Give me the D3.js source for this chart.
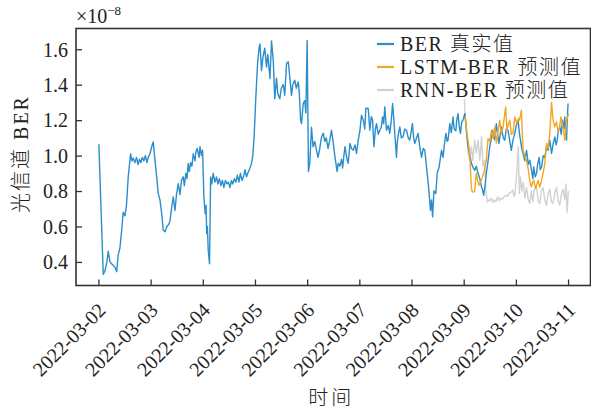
<!DOCTYPE html>
<html>
<head>
<meta charset="utf-8">
<script src="https://cdn.jsdelivr.net/npm/d3@7"></script>
<style>
  html, body { margin: 0; padding: 0; background: #fff; }
  svg { display: block; }
  text { font-family: "Liberation Serif", "Noto Sans CJK SC", serif; fill: #222; }
  .light { font-weight: 300; }
</style>
</head>
<body>
<svg id="chart" width="591" height="410"></svg>
<script>
// Hours after 2022-03-02 00:00, and BER values in units of 1e-8.
const berHours = [
  0.2, 2.2, 3.0, 3.9, 4.5, 5.3, 6.8, 7.6, 8.4, 9.1, 9.9, 10.7, 11.4, 12.2, 12.9, 13.7, 14.8, 15.4, 16.0, 16.8,
  17.5, 18.2, 18.9, 19.5, 20.2, 20.9, 21.6, 22.3, 22.9, 23.7, 24.5, 25.2, 26.0, 26.8, 27.5, 28.3, 29.1, 29.8, 30.6, 31.5,
  32.2, 32.9, 33.6, 34.4, 35.2, 35.9, 36.7, 37.5, 38.2, 39.0, 39.5, 40.2, 40.7, 41.3, 41.8, 42.4, 43.0, 43.6, 44.4, 44.8,
  45.4, 46.3, 46.7, 47.4, 47.9, 48.5, 49.1, 49.5, 49.8, 50.1, 50.5, 51.1, 51.6, 52.1, 52.8, 53.6, 54.3, 54.9, 55.6, 56.3,
  57.0, 57.7, 58.4, 59.1, 59.8, 60.5, 61.2, 61.8, 62.5, 63.2, 63.9, 64.6, 65.3, 66.0, 66.7, 67.4, 68.1, 68.7, 69.4, 70.4,
  71.0, 71.6, 72.4, 73.2, 73.9, 74.3, 75.0, 75.6, 76.5, 77.3, 77.9, 78.9, 79.6, 80.4, 81.1, 81.9, 82.5, 83.4, 84.1, 85.0,
  85.7, 86.5, 87.3, 88.0, 88.8, 89.4, 90.3, 91.0, 91.9, 92.3, 93.0, 93.4, 94.2, 94.9, 95.4, 96.0, 96.6, 97.2, 98.0, 98.7,
  99.5, 100.3, 101.0, 101.8, 102.6, 103.4, 104.1, 104.8, 105.6, 106.4, 107.2, 107.9, 108.7, 109.8, 110.3, 111.0, 111.8, 112.3, 112.9, 113.4,
  114.4, 114.9, 115.7, 116.4, 117.2, 118.0, 118.7, 119.5, 120.3, 121.0, 121.8, 122.5, 123.0, 124.1, 124.8, 125.5, 126.1, 126.7, 127.4, 127.9,
  128.7, 129.4, 130.1, 130.7, 131.2, 131.7, 132.5, 133.3, 134.0, 134.7, 135.3, 135.9, 136.3, 137.1, 137.4, 137.8, 138.6, 139.3, 140.1, 140.9,
  141.7, 142.5, 143.2, 143.9, 144.4, 145.0, 145.5, 146.3, 147.0, 147.8, 148.6, 149.4, 150.1, 151.2, 151.7, 152.1, 152.7, 153.2, 153.7, 154.3,
  155.2, 155.8, 156.7, 157.2, 157.8, 158.5, 159.1, 159.8, 160.4, 160.8, 161.6, 162.3, 163.1, 163.6, 164.4, 164.8, 165.4, 166.0, 166.5, 167.1,
  167.7, 168.5, 169.0, 169.4, 170.0, 170.8, 171.6, 172.4, 173.1, 173.8, 174.6, 175.4, 176.2, 176.8, 177.2, 177.9, 178.4, 179.2, 180.0, 180.6,
  181.2, 181.8, 182.2, 183.0, 183.6, 184.2, 184.8, 185.3, 186.2, 186.9, 187.6, 188.4, 189.2, 189.9, 190.7, 191.5, 192.2, 193.0, 193.6, 194.1,
  194.7, 195.3, 196.1, 196.9, 197.7, 198.4, 199.2, 199.8, 200.2, 200.9, 201.5, 202.0, 202.7, 203.2, 203.8, 204.6, 205.3, 206.1, 206.8, 207.6,
  208.4, 209.2, 209.9, 210.5, 211.0, 211.5, 212.2, 212.9, 213.4, 214.0, 214.5, 214.9, 215.3, 215.6, 216.0
];
const berActual = [
  1.064, 0.33, 0.35, 0.40, 0.46, 0.40, 0.38, 0.37, 0.345, 0.44, 0.48, 0.58, 0.68, 0.66, 0.72, 0.88, 1.01, 0.97, 0.985, 0.96,
  0.99, 0.95, 0.98, 0.96, 0.99, 0.97, 1.0, 0.96, 0.99, 1.01, 1.05, 1.077, 0.974, 0.88, 0.786, 0.75, 0.673, 0.58, 0.57, 0.60,
  0.61, 0.63, 0.70, 0.767, 0.69, 0.78, 0.842, 0.78, 0.86, 0.88, 0.83, 0.90, 0.87, 0.955, 0.91, 0.96, 0.94, 1.01, 0.97, 1.02,
  1.04, 0.99, 1.05, 1.0, 1.03, 0.767, 0.673, 0.72, 0.56, 0.60, 0.466, 0.39, 0.88, 0.84, 0.90, 0.85, 0.88, 0.84, 0.87, 0.83,
  0.86, 0.82, 0.86, 0.84, 0.85, 0.82, 0.86, 0.84, 0.87, 0.85, 0.89, 0.85, 0.90, 0.86, 0.88, 0.92, 0.88, 0.90, 0.92, 0.956,
  1.0, 1.105, 1.33, 1.52, 1.61, 1.63, 1.48, 1.55, 1.606, 1.50, 1.57, 1.435, 1.647, 1.54, 1.32, 1.437, 1.35, 1.32, 1.38, 1.40,
  1.34, 1.52, 1.53, 1.445, 1.34, 1.40, 1.425, 1.38, 1.416, 1.37, 1.20, 1.18, 1.295, 1.31, 1.24, 1.65, 0.91, 0.957, 1.16, 1.05,
  1.08, 1.03, 0.99, 1.04, 1.105, 1.126, 1.08, 1.10, 1.04, 1.087, 1.143, 1.08, 1.00, 0.91, 0.957, 0.94, 0.98, 0.93, 1.0, 1.05,
  0.974, 0.957, 1.068, 1.04, 1.03, 1.06, 1.013, 1.087, 1.143, 1.228, 1.20, 1.15, 1.267, 1.266, 1.143, 1.22, 1.2, 1.05, 1.15, 1.18,
  1.12, 1.143, 1.16, 1.218, 1.18, 1.275, 1.143, 1.17, 1.126, 1.2, 1.294, 1.2, 1.125, 0.99, 1.068, 1.11, 1.162, 1.10, 1.105, 1.15,
  1.143, 1.10, 1.087, 1.14, 1.18, 1.10, 1.068, 1.10, 1.125, 1.05, 0.99, 1.04, 1.03, 0.90, 0.84, 0.786, 0.69, 0.75, 0.654, 0.80,
  0.786, 0.90, 0.936, 0.98, 1.03, 0.99, 1.06, 1.125, 1.08, 1.087, 1.18, 1.13, 1.218, 1.15, 1.14, 1.20, 1.237, 1.16, 1.125, 1.19,
  1.2, 1.237, 1.18, 1.12, 1.05, 1.00, 0.955, 0.93, 0.917, 0.94, 0.90, 0.87, 0.823, 0.80, 0.776, 0.84, 0.90, 0.97, 1.05, 1.09,
  1.143, 1.10, 1.09, 1.18, 1.12, 1.068, 1.12, 1.162, 1.10, 1.087, 1.15, 1.143, 1.08, 1.03, 1.09, 1.125, 1.17, 1.2, 1.13, 1.087,
  1.04, 1.012, 0.97, 1.03, 0.95, 0.974, 0.917, 0.87, 0.936, 0.88, 0.9, 0.95, 0.99, 0.92, 0.936, 1.0, 0.99, 1.05, 1.03, 1.087,
  1.012, 1.07, 1.105, 1.06, 1.087, 1.14, 1.162, 1.12, 1.2, 1.15, 1.218, 1.13, 1.087, 1.20, 1.294
];

const lstmHours = [
  168.7, 169.5, 170.4, 171.0, 171.5, 171.9, 173.0, 173.8, 174.4, 175.0, 176.1, 177.2, 178.4, 179.2, 180.0, 180.8, 181.5, 182.3, 183.0, 183.8,
  184.6, 185.3, 186.1, 186.7, 187.3, 187.9, 188.6, 189.2, 189.9, 190.7, 191.5, 192.5, 193.2, 193.7, 194.5, 195.3, 196.1, 196.8, 197.6, 198.4,
  199.1, 199.7, 200.2, 201.1, 201.7, 202.2, 203.0, 203.8, 204.5, 205.3, 206.1, 206.8, 207.6, 208.4, 209.1, 209.9, 210.7, 211.3, 211.9, 212.7,
  213.7, 214.5, 215.3, 216.3
];
const lstmPredicted = [
  1.22, 1.126, 1.05, 0.955, 0.823, 0.795, 0.795, 0.90, 0.86, 0.833, 0.86, 0.90, 0.974, 1.096, 1.08, 1.143, 1.10, 1.162, 1.07, 1.14,
  1.20, 1.12, 1.162, 1.22, 1.275, 1.143, 1.18, 1.20, 1.12, 1.125, 1.218, 1.18, 1.21, 1.20, 1.256, 1.03, 1.0, 0.974, 0.93, 0.86,
  0.823, 0.85, 0.86, 0.814, 0.84, 0.86, 0.823, 0.86, 0.90, 0.955, 1.068, 1.04, 1.125, 1.30, 1.20, 1.162, 1.19, 1.14, 1.143, 1.218,
  1.162, 1.087, 1.20, 1.237
];

const rnnHours = [
  168.3, 169.1, 169.7, 170.2, 170.7, 171.5, 172.2, 173.0, 173.8, 174.6, 175.4, 176.2, 176.9, 177.7, 178.2, 178.9, 179.5, 180.0, 180.7, 181.4,
  182.1, 182.8, 183.7, 184.4, 185.1, 186.0, 186.7, 187.7, 188.3, 189.0, 190.0, 190.6, 191.1, 191.5, 192.3, 193.1, 193.6, 194.1, 194.7, 195.4,
  196.1, 196.9, 197.7, 198.4, 199.1, 199.8, 200.5, 201.5, 202.3, 203.0, 203.7, 204.5, 205.3, 206.1, 206.9, 207.6, 208.3, 209.1, 209.9, 210.7,
  211.5, 212.2, 212.9, 213.7, 214.5, 215.0, 215.6, 216.1
];
const rnnPredicted = [
  1.32, 1.143, 1.07, 1.0, 0.974, 1.05, 0.974, 1.087, 1.013, 1.087, 0.974, 1.105, 0.94, 0.974, 0.80, 0.739, 0.75, 0.745, 0.76, 0.735,
  0.75, 0.74, 0.767, 0.745, 0.76, 0.755, 0.77, 0.776, 0.77, 0.79, 0.795, 0.805, 0.77, 0.776, 0.88, 1.05, 0.786, 0.88, 0.80, 0.85,
  0.76, 0.82, 0.75, 0.73, 0.80, 0.74, 0.81, 0.82, 0.74, 0.73, 0.80, 0.82, 0.75, 0.72, 0.79, 0.81, 0.74, 0.73, 0.79, 0.82,
  0.74, 0.72, 0.78, 0.81, 0.75, 0.84, 0.68, 0.80
];

const dayTicks = ["2022-03-02", "2022-03-03", "2022-03-04", "2022-03-05", "2022-03-06",
                  "2022-03-07", "2022-03-08", "2022-03-09", "2022-03-10", "2022-03-11"];
const berTicks = [0.4, 0.6, 0.8, 1.0, 1.2, 1.4, 1.6];

const legendLabels = ["BER 真实值", "LSTM-BER 预测值", "RNN-BER 预测值"];
const seriesColors = ["#2a8ecb", "#f5a623", "#d2d2d2"];

// ---------------------------------------------------------------------------
const svg = d3.select("#chart");
const plot = { left: 76, right: 590.5, top: 28.5, bottom: 285.5 };

const parseDay = d3.utcParse("%Y-%m-%d");
const t0 = parseDay(dayTicks[0]);
const hourToDate = h => new Date(t0.getTime() + h * 3600e3);
const padHours = 0.43 * 24;

const x = d3.scaleUtc()
  .domain([hourToDate(-padHours), hourToDate(9 * 24 + padHours)])
  .range([plot.left, plot.right]);
const y = d3.scaleLinear()
  .domain([0.267, 1.717])
  .range([plot.bottom, plot.top]);

const toPoints = (hs, vs) => hs.map((h, i) => [hourToDate(h), vs[i]]);
const line = d3.line().x(d => x(d[0])).y(d => y(d[1]));

svg.append("clipPath").attr("id", "plot-clip")
  .append("rect")
  .attr("x", plot.left).attr("y", plot.top)
  .attr("width", plot.right - plot.left).attr("height", plot.bottom - plot.top);

const lines = svg.append("g").attr("clip-path", "url(#plot-clip)")
  .attr("fill", "none").attr("stroke-width", 1.4).attr("stroke-linejoin", "round");

lines.append("path").datum(toPoints(rnnHours, rnnPredicted))
  .attr("stroke", seriesColors[2]).attr("d", line);
lines.append("path").datum(toPoints(berHours, berActual))
  .attr("stroke", seriesColors[0]).attr("d", line);
lines.append("path").datum(toPoints(lstmHours, lstmPredicted))
  .attr("stroke", seriesColors[1]).attr("d", line);

// Axes (ticks point inward)
const axisColor = "#333";
const xAxis = d3.axisBottom(x)
  .tickValues(dayTicks.map(parseDay))
  .tickSizeInner(-6).tickSizeOuter(0)
  .tickFormat(d3.utcFormat("%Y-%m-%d"));
const gx = svg.append("g").attr("transform", `translate(0,${plot.bottom})`).call(xAxis);
gx.select(".domain").remove();
gx.selectAll(".tick line").attr("stroke", axisColor).attr("stroke-width", 1.3);
gx.selectAll(".tick text")
  .attr("font-size", 20)
  .attr("text-anchor", "end")
  .attr("y", 0).attr("dy", 0)
  .attr("transform", "translate(8,26) rotate(-45)");

const yAxis = d3.axisLeft(y)
  .tickValues(berTicks)
  .tickSizeInner(-6).tickSizeOuter(0)
  .tickFormat(d3.format(".1f"));
const gy = svg.append("g").attr("transform", `translate(${plot.left},0)`).call(yAxis);
gy.select(".domain").remove();
gy.selectAll(".tick line").attr("stroke", axisColor).attr("stroke-width", 1.3);
gy.selectAll(".tick text").attr("font-size", 20).attr("x", -8).attr("dy", "0.34em");

svg.selectAll(".tick text").style("fill", "#222").attr("fill", "#222");

// Frame
svg.append("rect")
  .attr("x", plot.left).attr("y", plot.top)
  .attr("width", plot.right - plot.left).attr("height", plot.bottom - plot.top)
  .attr("fill", "none").attr("stroke", axisColor).attr("stroke-width", 1.6);

// Offset multiplier
const mult = svg.append("text").attr("x", plot.left).attr("y", 23).attr("font-size", 20);
mult.append("tspan").text("×10");
mult.append("tspan").attr("font-size", 13).attr("dy", -8).text("−8");

// Axis titles
svg.append("text").attr("class", "light")
  .attr("x", (plot.left + plot.right) / 2 - 2).attr("y", 405)
  .attr("text-anchor", "middle").attr("font-size", 20).attr("letter-spacing", 3)
  .text("时间");
svg.append("text").attr("class", "light")
  .attr("transform", "translate(28,154) rotate(-90)")
  .attr("text-anchor", "middle").attr("font-size", 20).attr("letter-spacing", 2)
  .text("光信道 BER");

// Legend
const legend = svg.append("g").attr("transform", "translate(377,44)");
legendLabels.forEach((label, i) => {
  const row = legend.append("g").attr("transform", `translate(0,${i * 23})`);
  row.append("line").attr("x1", 0).attr("x2", 17).attr("y1", 0).attr("y2", 0)
    .attr("stroke", seriesColors[i]).attr("stroke-width", 2.2);
  row.append("text").attr("class", "light").attr("x", 23).attr("y", 0).attr("dy", "0.35em")
    .attr("font-size", 20).attr("letter-spacing", 1.5).text(label);
});
</script>
</body>
</html>
